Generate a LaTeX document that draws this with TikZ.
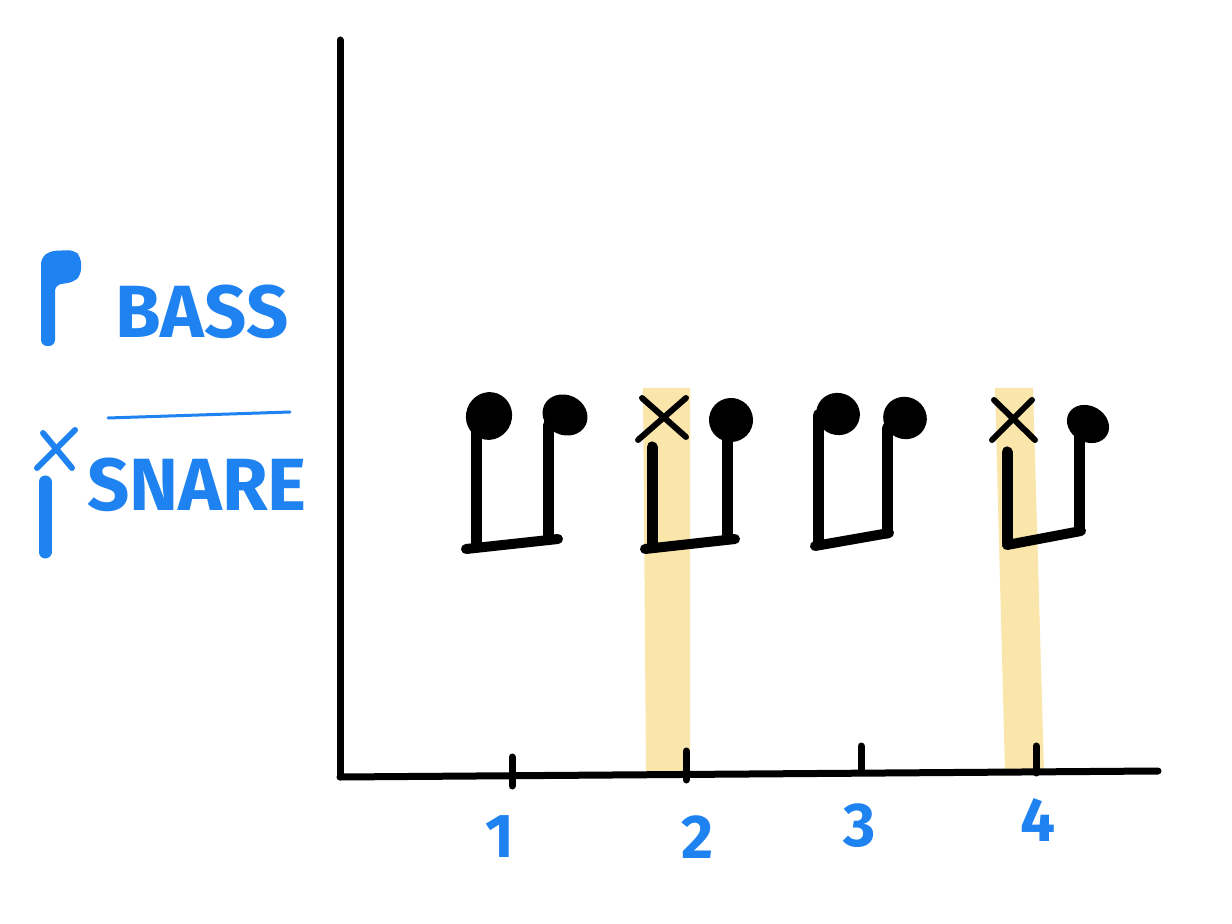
\documentclass[tikz,border=0pt]{standalone}
\usepackage{fontspec}
\setmainfont{Fira Sans}
\definecolor{inkblue}{RGB}{30,130,240}
\definecolor{hilite}{RGB}{250,230,170}
\tikzset{
  axisline/.style={line width=3.5pt, line cap=round, black},
  tickline/.style={line width=3.5pt, line cap=round, black},
  stemline/.style={line width=5.5pt, line cap=round, black},
  beamline/.style={line width=5pt, line cap=round, black},
  xmark/.style={line width=3pt, line cap=round, black},
  notehead/.style={fill=black},
  band/.style={fill=hilite},
  numlabel/.style={text=inkblue, font=\fontsize{31}{31}\selectfont\bfseries},
  legendtext/.style={text=inkblue, font=\fontsize{37}{37}\selectfont\bfseries},
  legendstem/.style={line width=6.5pt, line cap=round, inkblue},
}
\begin{document}
\begin{tikzpicture}[x=0.5pt,y=-0.5pt]
\useasboundingbox (0,0) rectangle (1232,924);
\fill[white] (0,0) rectangle (1232,924);
% highlight bands
\fill[band] (643,388) -- (690,388) -- (690,772) -- (646,772) -- cycle;
\fill[band] (995,388) -- (1033,388) -- (1044,772) -- (1005,772) -- cycle;
% axes
\coordinate (origin) at (340,777);
\coordinate (ytop) at (340,40);
\coordinate (xend) at (1158,771);
\draw[axisline] (ytop) -- (origin);
\draw[axisline] (origin) -- (xend);
% ticks
\coordinate (t1a) at (512,757); \coordinate (t1b) at (512,786);
\coordinate (t2a) at (686,751); \coordinate (t2b) at (686,780);
\coordinate (t3a) at (861,746); \coordinate (t3b) at (861,771);
\coordinate (t4a) at (1036,746); \coordinate (t4b) at (1036,773);
\draw[tickline] (t1a) -- (t1b);
\draw[tickline] (t2a) -- (t2b);
\draw[tickline] (t3a) -- (t3b);
\draw[tickline] (t4a) -- (t4b);
% numbers
\node[numlabel] (n1) at (500,837) {1};
\node[numlabel] (n2) at (698,837) {2};
\node[numlabel] (n3) at (860,826) {3};
\node[numlabel] (n4) at (1038,820) {4};
% group 1
\fill[notehead, rotate around={-20:(489,416)}] (489,416) ellipse [x radius=23, y radius=24];
\fill[notehead, rotate around={-25:(565,415)}] (565,415) ellipse [x radius=23, y radius=20];
\draw[stemline] (476,425) -- (476,546);
\draw[stemline] (548,425) -- (548,536);
\draw[beamline] (466,549) -- (558,539);
% group 2
\draw[xmark] (642,398) -- (686,437);
\draw[xmark] (686,398) -- (638,440);
\fill[notehead, rotate around={-20:(731,420)}] (731,420) ellipse [x radius=22, y radius=22];
\draw[stemline] (652,447) -- (652,546);
\draw[stemline] (727,430) -- (727,537);
\draw[beamline] (645,549) -- (735,539);
% group 3
\fill[notehead, rotate around={-20:(838,414)}] (838,414) ellipse [x radius=22, y radius=21];
\fill[notehead, rotate around={-25:(905,418)}] (905,418) ellipse [x radius=22, y radius=21];
\draw[stemline] (818,415) -- (818,543);
\draw[stemline] (887,428) -- (887,533);
\draw[beamline] (815,546) -- (889,533);
% group 4
\draw[xmark] (994,400) -- (1035,440);
\draw[xmark] (1032,400) -- (992,440);
\fill[notehead, rotate around={-30:(1088,424)}] (1088,424) ellipse [x radius=22, y radius=18];
\draw[stemline] (1007,452) -- (1007,543);
\draw[stemline] (1079,435) -- (1079,530);
\draw[beamline] (1007,545) -- (1081,531);
% legend: bass
\fill[inkblue, rounded corners=3pt] (41,346) -- (41,258) -- (50,251) -- (74,250) -- (81,257) -- (81,275) -- (74,282) -- (55,285) -- (55,346) -- cycle;
\node[legendtext] (bass) at (202,312) {BASS};
% separator line
\coordinate (sepa) at (108,418);
\coordinate (sepb) at (290,412);
\draw[inkblue, line width=1.5pt, line cap=round] (sepa) -- (sepb);
% legend: snare
\draw[line width=3pt, line cap=round, inkblue] (43,433) -- (72,468);
\draw[line width=3pt, line cap=round, inkblue] (75,430) -- (37,468);
\draw[legendstem] (45,482) -- (45,552);
\node[legendtext] (snare) at (197,485) {SNARE};
\end{tikzpicture}
\end{document}
